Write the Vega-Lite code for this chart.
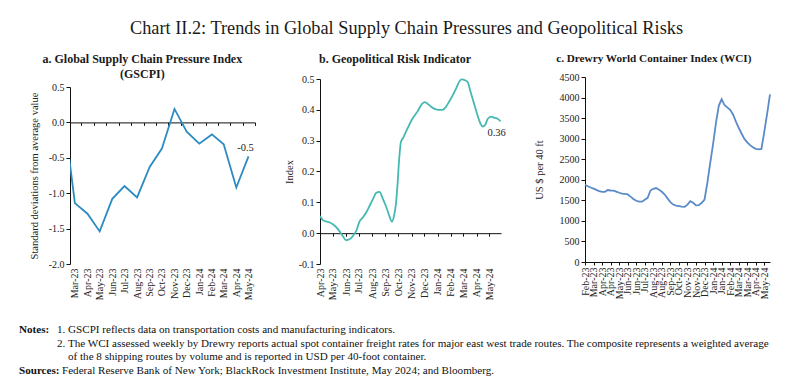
{
  "$schema": "https://vega.github.io/schema/vega-lite/v6.json",
  "padding": {"left": 19, "top": 18, "right": 8, "bottom": 4},
  "background": "white",
  "title": {"text": "Chart II.2: Trends in Global Supply Chain Pressures and Geopolitical Risks", "font": "Liberation Serif", "fontSize": 18.3, "fontWeight": "normal", "color": "#1a1a1a", "anchor": "middle", "offset": 15, "dx": 8},
  "config": {
    "locale": {"number": {"decimal": ".", "thousands": ",", "grouping": [3], "currency": ["$", ""], "minus": "-"}},
    "font": "Liberation Serif",
    "view": {"stroke": null},
    "axis": {"labelFont": "Liberation Serif", "labelFontSize": 10, "labelColor": "#222", "titleFont": "Liberation Serif", "titleFontSize": 10.5, "titleFontWeight": "normal", "titleColor": "#222", "domainColor": "#111", "tickColor": "#111", "grid": false, "tickSize": 4, "labelPadding": 2},
    "title": {"font": "Liberation Serif", "fontSize": 12, "fontWeight": "bold", "color": "#1a1a1a", "frame": "bounds"},
    "text": {"font": "Liberation Serif"}
  },
  "spacing": 24,
  "vconcat": [
    {
      "hconcat": [
        {"width": 1, "height": 1, "data": {"values": []}, "mark": "point", "encoding": {}},
        {
          "hconcat": [
            {
              "title": {"text": ["a. Global Supply Chain Pressure Index", "(GSCPI)"], "lineHeight": 15, "offset": -4},
              "width": 185,
              "height": 187,
              "data": {"values": [
                {"month": "2023-02-01", "gscpi": 0.14},
                {"month": "2023-03-01", "gscpi": -1.14},
                {"month": "2023-04-01", "gscpi": -1.29},
                {"month": "2023-05-01", "gscpi": -1.54},
                {"month": "2023-06-01", "gscpi": -1.08},
                {"month": "2023-07-01", "gscpi": -0.90},
                {"month": "2023-08-01", "gscpi": -1.06},
                {"month": "2023-09-01", "gscpi": -0.63},
                {"month": "2023-10-01", "gscpi": -0.37},
                {"month": "2023-11-01", "gscpi": 0.19},
                {"month": "2023-12-01", "gscpi": -0.13},
                {"month": "2024-01-01", "gscpi": -0.30},
                {"month": "2024-02-01", "gscpi": -0.17},
                {"month": "2024-03-01", "gscpi": -0.31},
                {"month": "2024-04-01", "gscpi": -0.92},
                {"month": "2024-05-01", "gscpi": -0.48}
              ]},
              "resolve": {"axis": {"x": "independent"}},
              "encoding": {
                "y": {"field": "gscpi", "type": "quantitative",
                  "scale": {"domain": [-2, 0.5], "nice": false, "zero": false, "range": [187, 10]},
                  "axis": {"values": [-2, -1.5, -1, -0.5, 0, 0.5], "format": ".1f", "labelOverlap": false, "title": "Standard deviations from average value", "titlePadding": 9}}
              },
              "layer": [
                {
                  "mark": {"type": "line", "color": "#2c8bc3", "strokeWidth": 1.8, "clip": true},
                  "encoding": {
                    "x": {"field": "month", "type": "temporal",
                      "scale": {"type": "utc", "domain": [{"year": 2023, "month": 2, "date": 17, "utc": true}, {"year": 2024, "month": 5, "date": 17, "utc": true}]},
                      "axis": {"orient": "bottom", "domain": false, "ticks": false, "labelAngle": -90, "labelPadding": 4, "tickCount": {"interval": "month", "step": 1}, "labelExpr": "utcFormat(datum.value, '%b-%y')", "labelOverlap": false, "labelFlush": false, "title": null}}
                  }
                },
                {
                  "transform": [{"filter": "utcyear(datum.month) == 2024 && utcmonth(datum.month) == 4"}],
                  "mark": {"type": "text", "fontSize": 10.5, "color": "#222", "align": "center", "baseline": "middle", "dx": -3, "dy": -8},
                  "encoding": {
                    "x": {"field": "month", "type": "temporal",
                      "axis": {"orient": "top", "offset": -45.4, "labels": false, "domain": true, "ticks": true, "tickSize": -3, "title": null,
                        "values": [
                          {"year": 2023, "month": 2, "date": 17, "utc": true}, {"year": 2023, "month": 3, "date": 17, "utc": true},
                          {"year": 2023, "month": 4, "date": 17, "utc": true}, {"year": 2023, "month": 5, "date": 17, "utc": true},
                          {"year": 2023, "month": 6, "date": 17, "utc": true}, {"year": 2023, "month": 7, "date": 17, "utc": true},
                          {"year": 2023, "month": 8, "date": 17, "utc": true}, {"year": 2023, "month": 9, "date": 17, "utc": true},
                          {"year": 2023, "month": 10, "date": 17, "utc": true}, {"year": 2023, "month": 11, "date": 17, "utc": true},
                          {"year": 2023, "month": 12, "date": 17, "utc": true}, {"year": 2024, "month": 1, "date": 17, "utc": true},
                          {"year": 2024, "month": 2, "date": 17, "utc": true}, {"year": 2024, "month": 3, "date": 17, "utc": true},
                          {"year": 2024, "month": 4, "date": 17, "utc": true}, {"year": 2024, "month": 5, "date": 17, "utc": true}
                        ]}},
                    "text": {"field": "gscpi", "type": "quantitative", "format": ".1f"}
                  }
                }
              ]
            },
            {
              "title": {"text": "b. Geopolitical Risk Indicator", "offset": 8},
              "width": 181,
              "height": 187,
              "data": {"values": [
                {"date": "2023-04-01", "gpr": 0.056}, {"date": "2023-04-08", "gpr": 0.042}, {"date": "2023-04-23", "gpr": 0.035},
                {"date": "2023-05-01", "gpr": 0.029}, {"date": "2023-05-13", "gpr": 0.013}, {"date": "2023-05-24", "gpr": -0.009},
                {"date": "2023-06-01", "gpr": -0.023}, {"date": "2023-06-09", "gpr": -0.020}, {"date": "2023-06-17", "gpr": -0.009},
                {"date": "2023-06-25", "gpr": 0.008}, {"date": "2023-07-02", "gpr": 0.037}, {"date": "2023-07-10", "gpr": 0.051},
                {"date": "2023-07-18", "gpr": 0.067}, {"date": "2023-07-26", "gpr": 0.089}, {"date": "2023-08-03", "gpr": 0.111},
                {"date": "2023-08-10", "gpr": 0.130}, {"date": "2023-08-18", "gpr": 0.134}, {"date": "2023-08-26", "gpr": 0.111},
                {"date": "2023-09-03", "gpr": 0.084}, {"date": "2023-09-10", "gpr": 0.056}, {"date": "2023-09-16", "gpr": 0.037},
                {"date": "2023-09-21", "gpr": 0.056}, {"date": "2023-09-25", "gpr": 0.089}, {"date": "2023-09-29", "gpr": 0.154},
                {"date": "2023-10-03", "gpr": 0.240}, {"date": "2023-10-07", "gpr": 0.295}, {"date": "2023-10-13", "gpr": 0.311},
                {"date": "2023-10-22", "gpr": 0.338}, {"date": "2023-11-03", "gpr": 0.371}, {"date": "2023-11-15", "gpr": 0.395},
                {"date": "2023-11-26", "gpr": 0.420}, {"date": "2023-12-02", "gpr": 0.425}, {"date": "2023-12-08", "gpr": 0.420},
                {"date": "2023-12-16", "gpr": 0.411}, {"date": "2023-12-25", "gpr": 0.403}, {"date": "2024-01-04", "gpr": 0.400},
                {"date": "2024-01-12", "gpr": 0.400}, {"date": "2024-01-20", "gpr": 0.409}, {"date": "2024-01-28", "gpr": 0.427},
                {"date": "2024-02-05", "gpr": 0.447}, {"date": "2024-02-13", "gpr": 0.469}, {"date": "2024-02-21", "gpr": 0.493},
                {"date": "2024-02-26", "gpr": 0.499}, {"date": "2024-03-05", "gpr": 0.496}, {"date": "2024-03-11", "gpr": 0.490},
                {"date": "2024-03-17", "gpr": 0.463}, {"date": "2024-03-25", "gpr": 0.425}, {"date": "2024-04-02", "gpr": 0.387},
                {"date": "2024-04-10", "gpr": 0.355}, {"date": "2024-04-15", "gpr": 0.346}, {"date": "2024-04-21", "gpr": 0.351},
                {"date": "2024-04-27", "gpr": 0.371}, {"date": "2024-05-05", "gpr": 0.378}, {"date": "2024-05-13", "gpr": 0.374},
                {"date": "2024-05-20", "gpr": 0.371}, {"date": "2024-05-27", "gpr": 0.363}
              ]},
              "resolve": {"axis": {"x": "independent"}},
              "encoding": {
                "y": {"field": "gpr", "type": "quantitative",
                  "scale": {"domain": [-0.1, 0.5], "nice": false, "zero": false, "range": [187, 2]},
                  "axis": {"values": [-0.1, 0, 0.1, 0.2, 0.3, 0.4, 0.5], "format": ".1f", "labelOverlap": false, "title": "Index", "titlePadding": 4}}
              },
              "layer": [
                {
                  "mark": {"type": "line", "color": "#45b9b1", "strokeWidth": 1.8, "interpolate": "monotone", "clip": true},
                  "encoding": {
                    "x": {"field": "date", "type": "temporal",
                      "scale": {"type": "utc", "domain": [{"year": 2023, "month": 4, "date": 1, "utc": true}, {"year": 2024, "month": 5, "date": 28, "utc": true}]},
                      "axis": {"orient": "bottom", "domain": false, "ticks": false, "labelAngle": -90, "labelPadding": 4, "tickCount": {"interval": "month", "step": 1}, "labelExpr": "utcFormat(datum.value, '%b-%y')", "labelOverlap": false, "labelFlush": false, "title": null}}
                  }
                },
                {
                  "transform": [{"filter": "utcyear(datum.date) == 2024 && utcmonth(datum.date) == 4 && utcdate(datum.date) == 27"}],
                  "mark": {"type": "text", "fontSize": 10.5, "color": "#222", "align": "center", "baseline": "middle", "dx": -4, "dy": 12},
                  "encoding": {
                    "x": {"field": "date", "type": "temporal",
                      "axis": {"orient": "top", "offset": -156.17, "labels": false, "domain": true, "ticks": true, "tickSize": -3, "title": null, "tickCount": {"interval": "month", "step": 1}}},
                    "text": {"field": "gpr", "type": "quantitative", "format": ".2f"}
                  }
                }
              ]
            },
            {
              "title": {"text": "c. Drewry World Container Index (WCI)", "offset": 8, "fontSize": 11.2},
              "width": 185,
              "height": 185,
              "data": {"values": [
                {"week": "2023-02-23", "wci": 1880}, {"week": "2023-03-02", "wci": 1843}, {"week": "2023-03-09", "wci": 1812},
                {"week": "2023-03-16", "wci": 1783}, {"week": "2023-03-23", "wci": 1755}, {"week": "2023-03-30", "wci": 1721},
                {"week": "2023-04-06", "wci": 1704}, {"week": "2023-04-13", "wci": 1706}, {"week": "2023-04-20", "wci": 1750},
                {"week": "2023-04-27", "wci": 1739}, {"week": "2023-05-04", "wci": 1736}, {"week": "2023-05-11", "wci": 1712},
                {"week": "2023-05-18", "wci": 1684}, {"week": "2023-05-25", "wci": 1661}, {"week": "2023-06-01", "wci": 1656},
                {"week": "2023-06-08", "wci": 1644}, {"week": "2023-06-15", "wci": 1591}, {"week": "2023-06-22", "wci": 1533},
                {"week": "2023-06-29", "wci": 1489}, {"week": "2023-07-06", "wci": 1467}, {"week": "2023-07-13", "wci": 1468},
                {"week": "2023-07-20", "wci": 1513}, {"week": "2023-07-27", "wci": 1560}, {"week": "2023-08-03", "wci": 1739},
                {"week": "2023-08-10", "wci": 1780}, {"week": "2023-08-17", "wci": 1798}, {"week": "2023-08-24", "wci": 1760},
                {"week": "2023-08-31", "wci": 1709}, {"week": "2023-09-07", "wci": 1640}, {"week": "2023-09-14", "wci": 1548},
                {"week": "2023-09-21", "wci": 1458}, {"week": "2023-09-28", "wci": 1397}, {"week": "2023-10-05", "wci": 1373},
                {"week": "2023-10-12", "wci": 1361}, {"week": "2023-10-19", "wci": 1348}, {"week": "2023-10-26", "wci": 1342},
                {"week": "2023-11-02", "wci": 1394}, {"week": "2023-11-09", "wci": 1479}, {"week": "2023-11-16", "wci": 1441},
                {"week": "2023-11-23", "wci": 1376}, {"week": "2023-11-30", "wci": 1383}, {"week": "2023-12-07", "wci": 1441},
                {"week": "2023-12-14", "wci": 1520}, {"week": "2023-12-21", "wci": 1930}, {"week": "2023-12-28", "wci": 2414},
                {"week": "2024-01-04", "wci": 2870}, {"week": "2024-01-11", "wci": 3380}, {"week": "2024-01-18", "wci": 3800},
                {"week": "2024-01-25", "wci": 3960}, {"week": "2024-02-01", "wci": 3818}, {"week": "2024-02-08", "wci": 3760},
                {"week": "2024-02-15", "wci": 3700}, {"week": "2024-02-22", "wci": 3590}, {"week": "2024-02-29", "wci": 3420},
                {"week": "2024-03-07", "wci": 3265}, {"week": "2024-03-14", "wci": 3126}, {"week": "2024-03-21", "wci": 2995},
                {"week": "2024-03-28", "wci": 2912}, {"week": "2024-04-04", "wci": 2843}, {"week": "2024-04-11", "wci": 2790},
                {"week": "2024-04-18", "wci": 2754}, {"week": "2024-04-25", "wci": 2738}, {"week": "2024-05-02", "wci": 2750},
                {"week": "2024-05-09", "wci": 3170}, {"week": "2024-05-16", "wci": 3610}, {"week": "2024-05-23", "wci": 4080}
              ]},
              "mark": {"type": "line", "color": "#5a8bc9", "strokeWidth": 1.8},
              "encoding": {
                "x": {"field": "week", "type": "temporal",
                  "scale": {"type": "utc", "domain": [{"year": 2023, "month": 2, "date": 23, "utc": true}, {"year": 2024, "month": 5, "date": 23, "utc": true}]},
                  "axis": {"orient": "bottom", "labelAngle": -90, "labelPadding": 2, "tickSize": 3, "labelExpr": "utcFormat(datum.value, '%b-%y')", "labelOverlap": false, "labelFlush": false, "title": null,
                    "values": [
                      {"year": 2023, "month": 2, "date": 23, "utc": true}, {"year": 2023, "month": 3, "date": 16, "utc": true},
                      {"year": 2023, "month": 4, "date": 6, "utc": true}, {"year": 2023, "month": 4, "date": 27, "utc": true},
                      {"year": 2023, "month": 5, "date": 18, "utc": true}, {"year": 2023, "month": 6, "date": 8, "utc": true},
                      {"year": 2023, "month": 6, "date": 29, "utc": true}, {"year": 2023, "month": 7, "date": 20, "utc": true},
                      {"year": 2023, "month": 8, "date": 10, "utc": true}, {"year": 2023, "month": 8, "date": 31, "utc": true},
                      {"year": 2023, "month": 9, "date": 21, "utc": true}, {"year": 2023, "month": 10, "date": 12, "utc": true},
                      {"year": 2023, "month": 11, "date": 2, "utc": true}, {"year": 2023, "month": 11, "date": 23, "utc": true},
                      {"year": 2023, "month": 12, "date": 14, "utc": true}, {"year": 2024, "month": 1, "date": 4, "utc": true},
                      {"year": 2024, "month": 1, "date": 25, "utc": true}, {"year": 2024, "month": 2, "date": 15, "utc": true},
                      {"year": 2024, "month": 3, "date": 7, "utc": true}, {"year": 2024, "month": 3, "date": 28, "utc": true},
                      {"year": 2024, "month": 4, "date": 18, "utc": true}, {"year": 2024, "month": 5, "date": 9, "utc": true}
                    ]}},
                "y": {"field": "wci", "type": "quantitative",
                  "scale": {"domain": [0, 4500], "nice": false},
                  "axis": {"values": [0, 500, 1000, 1500, 2000, 2500, 3000, 3500, 4000, 4500], "format": "d", "labelOverlap": false, "title": "US $ per 40 ft", "titlePadding": 15}}
              }
            }
          ],
          "spacing": 28
        }
      ],
      "spacing": 9
    },
    {
      "width": 759,
      "height": 41,
      "data": {"values": [
        {"row": 1, "part": "head", "txt": "Notes:"},
        {"row": 1, "part": "body", "txt": "1. GSCPI reflects data on transportation costs and manufacturing indicators."},
        {"row": 2, "part": "body", "txt": "2. The WCI assessed weekly by Drewry reports actual spot container freight rates for major east west trade routes. The composite represents a weighted average"},
        {"row": 3, "part": "cont", "txt": "of the 8 shipping routes by volume and is reported in USD per 40-foot container."},
        {"row": 4, "part": "head", "txt": "Sources:"},
        {"row": 4, "part": "src", "txt": "Federal Reserve Bank of New York; BlackRock Investment Institute, May 2024; and Bloomberg."}
      ]},
      "encoding": {
        "y": {"field": "row", "type": "ordinal", "axis": null, "scale": {"type": "point", "padding": 0}},
        "text": {"field": "txt", "type": "nominal"}
      },
      "layer": [
        {"transform": [{"filter": "datum.part == 'head'"}], "mark": {"type": "text", "align": "left", "baseline": "middle", "fontSize": 11.1, "fontWeight": "bold", "color": "#111", "dx": 0}, "encoding": {"x": {"value": 0}}},
        {"transform": [{"filter": "datum.part == 'body'"}], "mark": {"type": "text", "align": "left", "baseline": "middle", "fontSize": 11.1, "color": "#111", "dx": 38}, "encoding": {"x": {"value": 0}}},
        {"transform": [{"filter": "datum.part == 'cont'"}], "mark": {"type": "text", "align": "left", "baseline": "middle", "fontSize": 11.1, "color": "#111", "dx": 49}, "encoding": {"x": {"value": 0}}},
        {"transform": [{"filter": "datum.part == 'src'"}], "mark": {"type": "text", "align": "left", "baseline": "middle", "fontSize": 11.1, "color": "#111", "dx": 43}, "encoding": {"x": {"value": 0}}}
      ]
    }
  ]
}
